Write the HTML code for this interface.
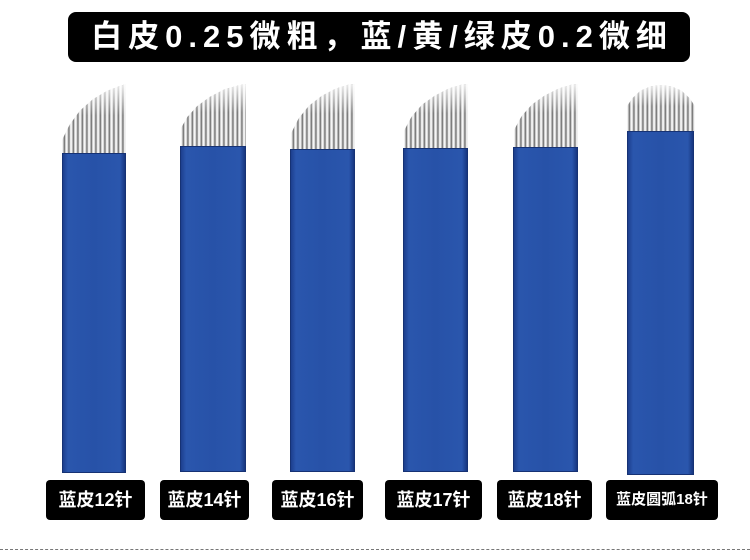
<!DOCTYPE html>
<html><head><meta charset="utf-8"><style>
body{margin:0;width:750px;height:560px;background:#fff;position:relative;overflow:hidden;font-family:"Liberation Sans","Noto Sans CJK SC",sans-serif}
.banner{position:absolute;left:68px;top:12px;width:622px;height:50px;background:#000;border-radius:8px;color:#fff;font-size:31px;font-weight:bold;text-align:center;line-height:50px;letter-spacing:6px;text-indent:6px}
.blade{position:absolute;background:linear-gradient(90deg,#1d3f8e 0%,#2a56ad 8%,#2752a8 50%,#2a56ad 92%,#173680 100%);border:1px solid #163274;box-sizing:border-box}
.nd{position:absolute;background:linear-gradient(180deg,rgba(255,255,255,.85) 0%,rgba(255,255,255,0) 45%),repeating-linear-gradient(90deg,#fff 0px,#e0e0e0 1px,#8a8a8a 2px,#6a6a6a 2.6px,#cfcfcf 3.4px,#fff 4.5px);}
.lab{position:absolute;top:480px;height:40px;background:#000;border-radius:4px;color:#fff;font-size:18px;font-weight:bold;text-align:center;line-height:40px}
.dash{position:absolute;left:0;top:549px;width:750px;border-top:1px dashed #777}
</style></head><body>
<div class="banner">白皮0.25微粗，蓝/黄/绿皮0.2微细</div>

<div class="nd" style="left:62px;top:84px;width:64px;height:70px;clip-path:polygon(0 100%,0 80%,12% 58%,28% 38%,48% 22%,70% 10%,90% 3%,100% 0,100% 100%)"></div>
<div class="blade" style="left:62px;top:153px;width:64px;height:320px"></div>

<div class="nd" style="left:181px;top:84px;width:65px;height:63px;clip-path:polygon(0 100%,0 70%,10% 52%,25% 35%,45% 20%,68% 8%,90% 2%,100% 0,100% 100%)"></div>
<div class="blade" style="left:180px;top:146px;width:66px;height:326px"></div>

<div class="nd" style="left:291px;top:84px;width:64px;height:66px;clip-path:polygon(0 100%,0 75%,12% 52%,28% 33%,48% 18%,70% 7%,90% 1%,100% 0,100% 100%)"></div>
<div class="blade" style="left:290px;top:149px;width:65px;height:323px"></div>

<div class="nd" style="left:404px;top:84px;width:64px;height:65px;clip-path:polygon(0 100%,0 72%,12% 50%,28% 32%,48% 18%,70% 7%,90% 1%,100% 0,100% 100%)"></div>
<div class="blade" style="left:403px;top:148px;width:65px;height:324px"></div>

<div class="nd" style="left:514px;top:84px;width:64px;height:64px;clip-path:polygon(0 100%,0 72%,12% 50%,28% 32%,48% 18%,70% 7%,90% 1%,100% 0,100% 100%)"></div>
<div class="blade" style="left:513px;top:147px;width:65px;height:325px"></div>

<div class="nd" style="left:627px;top:85px;width:68px;height:47px;clip-path:polygon(0 100%,0 45%,8% 28%,20% 12%,35% 3%,50% 0,65% 3%,80% 12%,92% 28%,100% 45%,100% 100%)"></div>
<div class="blade" style="left:627px;top:131px;width:67px;height:344px"></div>

<div class="lab" style="left:46px;width:99px">蓝皮12针</div>
<div class="lab" style="left:160px;width:89px">蓝皮14针</div>
<div class="lab" style="left:272px;width:91px">蓝皮16针</div>
<div class="lab" style="left:385px;width:97px">蓝皮17针</div>
<div class="lab" style="left:497px;width:95px">蓝皮18针</div>
<div class="lab" style="left:606px;width:112px;font-size:15px">蓝皮圆弧18针</div>
<div class="dash"></div>
</body></html>
